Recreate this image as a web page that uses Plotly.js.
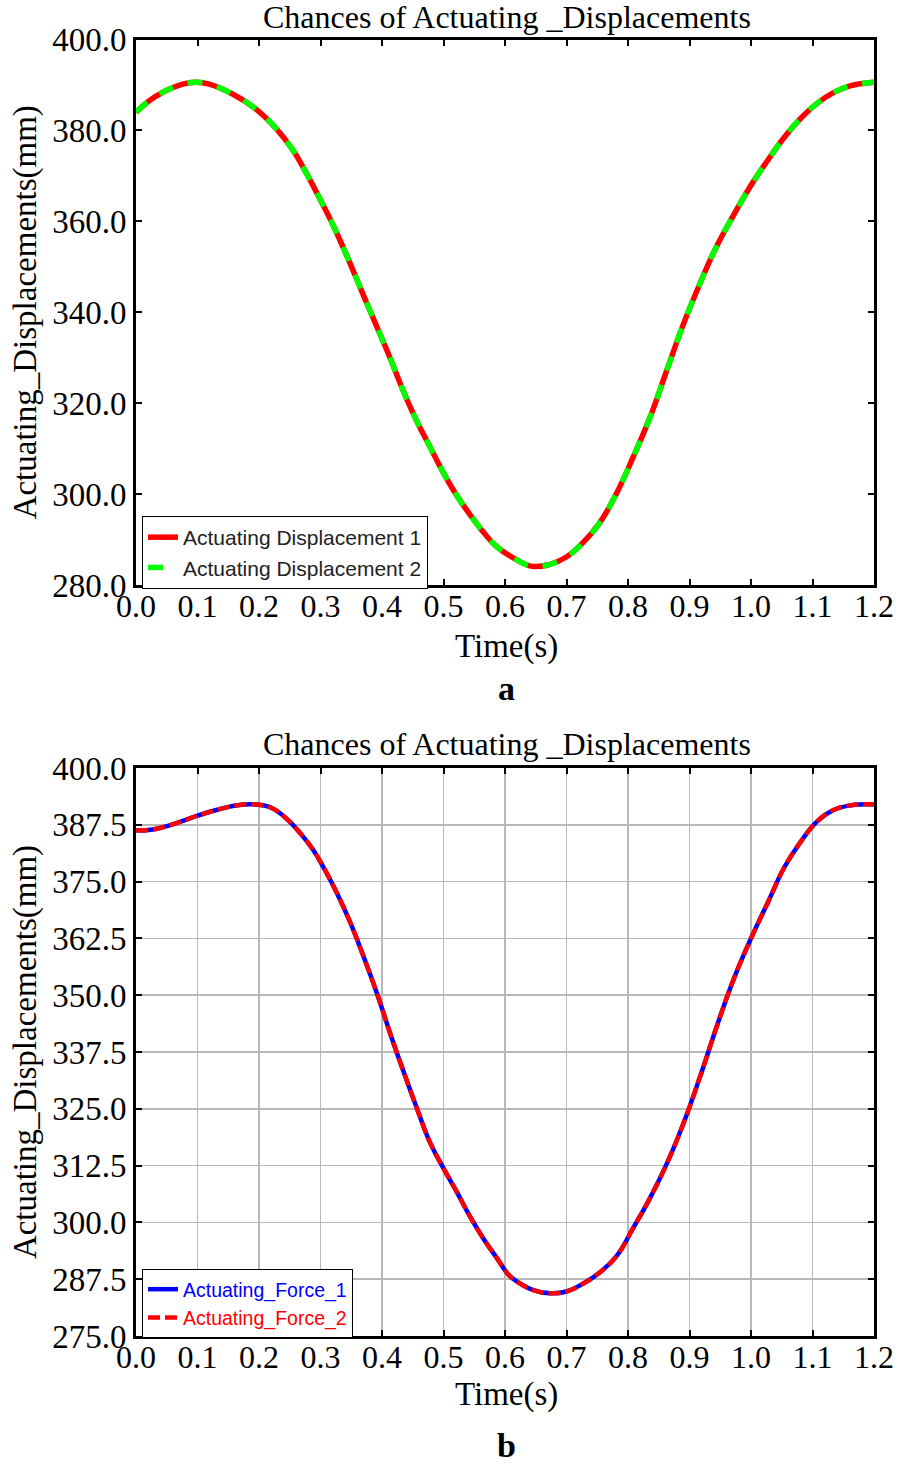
<!DOCTYPE html>
<html>
<head>
<meta charset="utf-8">
<script src="https://cdn.plot.ly/plotly-3.0.1.min.js"></script>
<style>html,body{margin:0;padding:0;background:#fff;}#chart{width:898px;height:1470px;}</style>
</head>
<body>
<div id="chart"></div>
<script>
// ---- Chart a: Actuating displacements ----
var timeA = [0.000,0.032,0.076,0.097,0.119,0.157,0.195,0.228,0.255,0.277,0.298,0.320,0.347,0.369,0.391,0.413,0.434,0.456,0.478,0.499,0.521,0.543,0.565,0.586,0.617,0.645,0.672,0.699,0.726,0.753,0.780,0.808,0.835,0.862,0.889,0.916,0.943,0.971,0.998,1.025,1.052,1.079,1.107,1.134,1.161,1.200];
var displacement1 = [384.0,387.5,390.2,390.6,390.2,388.0,384.7,380.4,375.7,370.6,365.2,359.3,351.1,344.0,337.0,330.0,322.9,316.2,310.4,304.9,299.8,295.5,291.6,288.5,285.7,284.1,284.5,286.1,289.2,293.5,299.8,308.0,316.6,326.8,337.0,346.0,354.2,361.2,367.5,373.0,378.1,382.4,385.9,388.3,389.8,390.6];
var displacement2 = [384.0,387.5,390.2,390.6,390.2,388.0,384.7,380.4,375.7,370.6,365.2,359.3,351.1,344.0,337.0,330.0,322.9,316.2,310.4,304.9,299.8,295.5,291.6,288.5,285.7,284.1,284.5,286.1,289.2,293.5,299.8,308.0,316.6,326.8,337.0,346.0,354.2,361.2,367.5,373.0,378.1,382.4,385.9,388.3,389.8,390.6];

// ---- Chart b ----
var timeB = [0.000,0.024,0.057,0.100,0.132,0.165,0.192,0.219,0.246,0.268,0.289,0.305,0.327,0.349,0.370,0.392,0.414,0.435,0.457,0.478,0.500,0.522,0.543,0.565,0.586,0.605,0.619,0.646,0.673,0.700,0.728,0.755,0.782,0.809,0.836,0.864,0.891,0.918,0.945,0.972,0.999,1.027,1.054,1.081,1.108,1.135,1.163,1.200];
var force1 = [386.3,386.4,387.5,389.5,390.8,391.8,392.0,391.3,388.7,385.5,381.8,378.1,372.4,365.8,358.5,350.3,341.3,333.2,325.0,317.6,311.9,306.6,301.3,296.4,292.3,288.6,287.0,285.1,284.4,284.8,286.6,289.1,292.7,298.9,305.4,313.2,322.1,332.4,343.4,353.6,362.2,370.3,378.1,383.8,388.3,390.8,391.8,392.0];
var force2 = [386.3,386.4,387.5,389.5,390.8,391.8,392.0,391.3,388.7,385.5,381.8,378.1,372.4,365.8,358.5,350.3,341.3,333.2,325.0,317.6,311.9,306.6,301.3,296.4,292.3,288.6,287.0,285.1,284.4,284.8,286.6,289.1,292.7,298.9,305.4,313.2,322.1,332.4,343.4,353.6,362.2,370.3,378.1,383.8,388.3,390.8,391.8,392.0];

var titleText = 'Chances of Actuating _Displacements';
var xTitle = 'Time(s)';
var yTitle = 'Actuating_Displacements(mm)';
var namesA = ['Actuating Displacement 1','Actuating Displacement 2'];
var namesB = ['Actuating_Force_1','Actuating_Force_2'];
var panelLabels = ['a','b'];

var serif = 'Liberation Serif, Times New Roman, serif';
var sans = 'Liberation Sans, Arial, sans-serif';

var traces = [
  {x: timeA, y: displacement1, name: namesA[0], type: 'scatter', mode: 'lines', xaxis: 'x', yaxis: 'y',
   line: {color: '#ff0000', width: 5.5, shape: 'spline', smoothing: 1.2}, legend: 'legend'},
  {x: timeA, y: displacement2, name: namesA[1], type: 'scatter', mode: 'lines', xaxis: 'x', yaxis: 'y',
   line: {color: '#00ff00', width: 5.5, dash: '15px,15px', shape: 'spline', smoothing: 1.2}, legend: 'legend'},
  {x: timeB, y: force1, name: '<span style="color:#0000ff">' + namesB[0] + '</span>', type: 'scatter', mode: 'lines', xaxis: 'x2', yaxis: 'y2',
   line: {color: '#0000ff', width: 4.5, shape: 'spline', smoothing: 1.2}, legend: 'legend2'},
  {x: timeB, y: force2, name: '<span style="color:#ff0000">' + namesB[1] + '</span>', type: 'scatter', mode: 'lines', xaxis: 'x2', yaxis: 'y2',
   line: {color: '#ff0000', width: 4.5, dash: '12px,5px', shape: 'spline', smoothing: 1.2}, legend: 'legend2'}
];

var W = 898, H = 1470;
var xdom = [136/W, 874/W];
function ax(extra) {
  var base = {
    showline: true, linecolor: '#000', linewidth: 3, mirror: 'ticks',
    ticks: 'inside', ticklen: 6, tickwidth: 2, tickcolor: '#000',
    zeroline: false,
    tickfont: {family: serif, size: 33, color: '#000'},
    tickformat: '.1f'
  };
  for (var k in extra) base[k] = extra[k];
  return base;
}
function note(text, px, py, size) {
  return {text: text, xref: 'paper', yref: 'paper', x: px / W, y: 1 - py / H, xanchor: 'center', yanchor: 'middle',
          showarrow: false, font: {family: serif, size: size, color: '#000'}};
}

var layout = {
  width: W, height: H,
  margin: {l: 0, r: 0, t: 0, b: 0},
  paper_bgcolor: '#fff', plot_bgcolor: '#fff',
  showlegend: true,
  xaxis: ax({domain: xdom, anchor: 'y', range: [0, 1.2], dtick: 0.1, tick0: 0, showgrid: false, ticklabelstandoff: -9,
    tickfont: {family: serif, size: 32, color: '#000'}}),
  yaxis: ax({domain: [1 - 585/H, 1 - 39.5/H], anchor: 'x', range: [280, 400], dtick: 20, tick0: 280, showgrid: false,
    title: {text: yTitle, font: {family: serif, size: 33, color: '#000'}, standoff: 6}}),
  xaxis2: ax({domain: xdom, anchor: 'y2', range: [0, 1.2], dtick: 0.1, tick0: 0, showgrid: true, gridcolor: '#b8b8b8', gridwidth: 1.5, ticklabelstandoff: -9,
    tickfont: {family: serif, size: 32, color: '#000'}}),
  yaxis2: ax({domain: [1 - 1336/H, 1 - 768/H], anchor: 'x2', range: [275, 400], dtick: 12.5, tick0: 275, showgrid: true, gridcolor: '#b8b8b8', gridwidth: 1.5,
    title: {text: yTitle, font: {family: serif, size: 33, color: '#000'}, standoff: 6}}),
  legend: {x: 142/W, y: 1 - 516/H, xanchor: 'left', yanchor: 'top', bgcolor: '#fff', bordercolor: '#000', borderwidth: 1,
    font: {family: sans, size: 21, color: '#222'}, tracegroupgap: 0},
  legend2: {x: 142/W, y: 1 - 1269/H, xanchor: 'left', yanchor: 'top', bgcolor: '#fff', bordercolor: '#000', borderwidth: 1,
    font: {family: sans, size: 19.5, color: '#000'}, tracegroupgap: 0},
  annotations: [
    note(titleText, 507, 17, 32),
    note(titleText, 507, 744, 32),
    note(xTitle, 507, 646, 33),
    note(xTitle, 507, 1394, 33),
    note('<b>' + panelLabels[0] + '</b>', 507, 688, 34),
    note('<b>' + panelLabels[1] + '</b>', 507, 1445, 34)
  ]
};

Plotly.newPlot('chart', traces, layout, {displayModeBar: false, staticPlot: true});
</script>
</body>
</html>
